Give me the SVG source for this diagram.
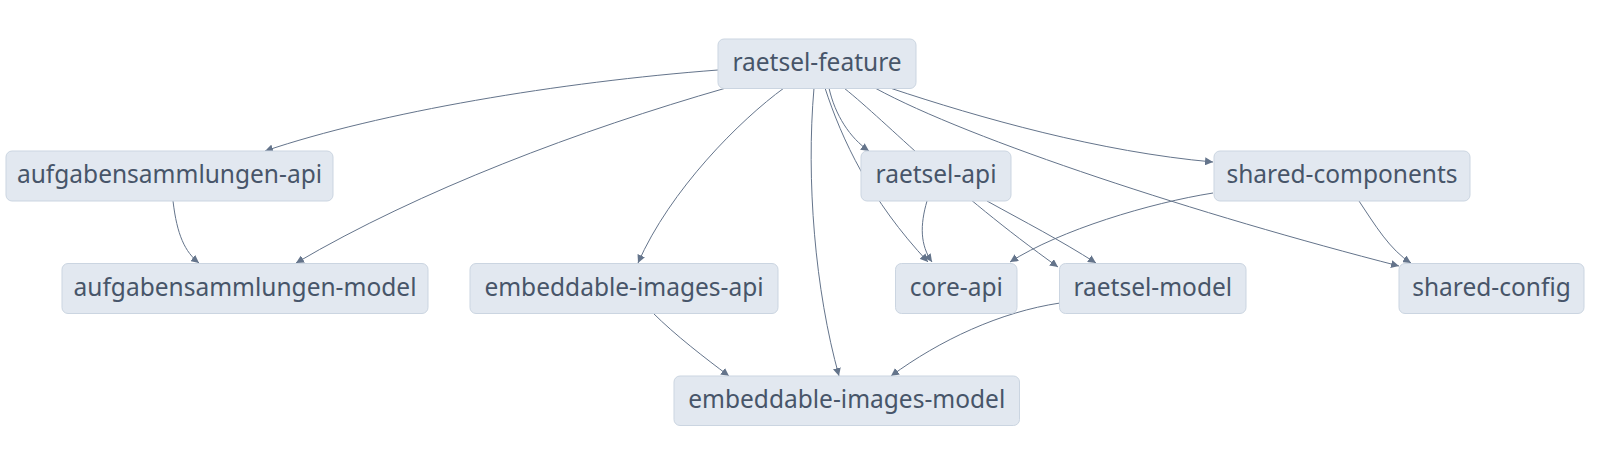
<svg xmlns="http://www.w3.org/2000/svg" width="1602" height="452" viewBox="0 0 1602 452">
<style>
.node rect{fill:#e2e8f0;stroke:#cbd5e1;stroke-width:1}
.node text{font-family:"Noto Sans","Open Sans",sans-serif;font-size:24.5px;fill:#475569;text-anchor:middle}
.edges path{fill:none;stroke:#64748b;stroke-width:1;marker-end:url(#arrow)}
</style>
<defs>
<marker id="arrow" viewBox="0 0 10 10" refX="10" refY="5" markerWidth="8" markerHeight="8" markerUnits="userSpaceOnUse" orient="auto">
<path d="M0,0 L10,5 L0,10 z" fill="#64748b"/>
</marker>
</defs>
<rect width="1602" height="452" fill="#ffffff"/>
<g class="edges" id="edges">
<path d="M718,70 C560,82 380,112 265,151"/>
<path d="M726,88 C580,130 420,190 296,263"/>
<path d="M784,88 C740,120 670,190 638,263"/>
<path d="M814,88 C806,180 815,290 839,376"/>
<path d="M829,88 C835,115 850,138 869,151"/>
<path d="M825,88 C842,140 870,200 928,262"/>
<path d="M844,88 C890,125 950,190 1058,267"/>
<path d="M890,88 C980,118 1100,152 1213,162"/>
<path d="M875,88 C970,140 1200,215 1399,266"/>
<path d="M1213,193 C1150,203 1060,230 1010,262"/>
<path d="M1359,201 C1375,225 1390,250 1411,263"/>
<path d="M173,201 C177,235 185,252 199,263"/>
<path d="M653,313 C675,335 705,358 729,376"/>
<path d="M1060,303 C1000,312 940,340 891,376"/>
<path d="M927,201 C920,225 920,245 932,262"/>
<path d="M987,201 C1025,222 1060,240 1096,263"/>
</g>
<g class="node" id="raetsel-feature"><rect x="718" y="39" width="198" height="49.5" rx="6"/><text x="817" y="71">raetsel-feature</text></g>
<g class="node" id="aufgabensammlungen-api"><rect x="6" y="151" width="327" height="50" rx="6"/><text x="169.5" y="183">aufgabensammlungen-api</text></g>
<g class="node" id="raetsel-api"><rect x="861" y="151" width="150" height="50" rx="6"/><text x="936" y="183">raetsel-api</text></g>
<g class="node" id="shared-components"><rect x="1214" y="151" width="256" height="50" rx="6"/><text x="1342" y="183">shared-components</text></g>
<g class="node" id="aufgabensammlungen-model"><rect x="62" y="263.5" width="366" height="50" rx="6"/><text x="245" y="295.5">aufgabensammlungen-model</text></g>
<g class="node" id="embeddable-images-api"><rect x="470" y="263.5" width="308" height="50" rx="6"/><text x="624" y="295.5">embeddable-images-api</text></g>
<g class="node" id="core-api"><rect x="895.5" y="263.5" width="121.5" height="50" rx="6"/><text x="956.25" y="295.5">core-api</text></g>
<g class="node" id="raetsel-model"><rect x="1059.5" y="263.5" width="186.5" height="50" rx="6"/><text x="1152.75" y="295.5">raetsel-model</text></g>
<g class="node" id="shared-config"><rect x="1399" y="263.5" width="185" height="50" rx="6"/><text x="1491.5" y="295.5">shared-config</text></g>
<g class="node" id="embeddable-images-model"><rect x="674" y="376" width="345.5" height="49.5" rx="6"/><text x="846.75" y="408">embeddable-images-model</text></g>
</svg>
